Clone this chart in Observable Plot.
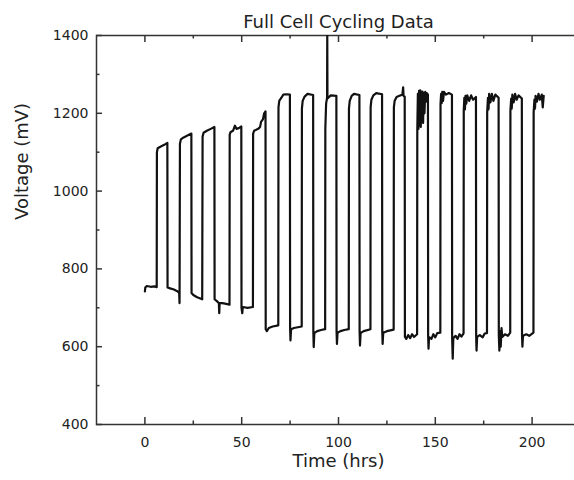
<!DOCTYPE html>
<html><head><meta charset="utf-8">
<script src="https://cdn.jsdelivr.net/npm/d3@7"></script>
<script src="https://cdn.jsdelivr.net/npm/@observablehq/plot@0.6"></script>
<style>
html,body{margin:0;padding:0;background:#fff;overflow:hidden;}
#chart{width:574px;height:480px;overflow:hidden;}
#chart svg{max-width:none !important;height:480px !important;}
</style>
</head><body><div id="chart"></div>
<script>
const chartTitle = "Full Cell Cycling Data";
const xLabel = "Time (hrs)";
const yLabel = "Voltage (mV)";
const xMajorTicks = [0, 50, 100, 150, 200];
const xMinorTicks = [25, 75, 125, 175];
const yMajorTicks = [400, 600, 800, 1000, 1200, 1400];
const yMinorTicks = [500, 700, 900, 1100, 1300];

// [time (hrs), voltage (mV)]
const cyclePoints = [
  [0, 742], [0.2, 752], [1, 756], [3, 754], [5, 755], [6.1, 753],
  [6.2, 1100], [6.6, 1110], [8, 1114], [10, 1119], [11.6, 1124],
  [11.7, 752], [13, 750], [15, 747], [17, 742], [17.7, 738], [17.9, 712],
  [18.1, 1122], [18.6, 1133], [20, 1138], [22, 1143], [24.0, 1148],
  [24.1, 738], [25, 733], [27, 727], [29.6, 722],
  [29.8, 1140], [30.3, 1150], [32, 1155], [34, 1160], [35.9, 1165],
  [36.0, 722], [37, 718], [38.2, 712], [38.4, 686], [38.6, 712], [40, 712], [42, 710], [43.7, 708],
  [43.8, 1145], [44.3, 1152], [45.5, 1155], [46.5, 1168], [47.3, 1160], [48.5, 1162], [49.8, 1166],
  [49.9, 700], [50.3, 686], [50.6, 702], [53, 700], [55.8, 702],
  [55.9, 1148], [56.4, 1155], [58.5, 1160], [59.5, 1165], [60, 1178], [61, 1185], [61.6, 1200], [62.3, 1205],
  [62.4, 645], [63, 640], [64, 648], [66, 652], [68.9, 655],
  [69.0, 1215], [69.4, 1232], [70.5, 1240], [71.5, 1248], [73, 1249], [74.9, 1248],
  [75.0, 648], [75.2, 616], [75.5, 645], [77, 648], [79, 650], [81.0, 652],
  [81.1, 1212], [81.5, 1232], [82.5, 1243], [84, 1250], [86.9, 1247],
  [87.0, 640], [87.2, 599], [87.5, 635], [89, 640], [91, 643], [93.1, 645],
  [93.2, 1160], [93.6, 1225], [94.1, 1240], [94.2, 1400], [94.3, 1238], [96, 1246], [98.9, 1245],
  [99.0, 640], [99.2, 607], [99.5, 636], [101, 640], [103, 643], [105.3, 645],
  [105.4, 1212], [105.8, 1232], [106.8, 1245], [108, 1250], [110.8, 1247],
  [110.9, 640], [111.1, 603], [111.4, 635], [113, 640], [116.5, 645],
  [116.6, 1216], [117, 1235], [118, 1246], [119.5, 1252], [122.5, 1249],
  [122.6, 640], [122.8, 607], [123.1, 636], [125, 640], [128.5, 644],
  [128.6, 1215], [129, 1232], [130, 1242], [131.5, 1245], [133, 1248], [133.4, 1267], [133.6, 1245], [134.2, 1243],
  [134.3, 625], [135, 620], [136, 630], [137, 622], [138, 632], [139, 625], [140.6, 632],
  [140.7, 1155], [141, 1250], [141.3, 1160], [141.6, 1258], [141.9, 1170], [142.2, 1259], [142.5, 1165],
  [142.8, 1255], [143.1, 1180], [143.4, 1256], [143.7, 1175], [144, 1252], [144.4, 1200], [144.8, 1255],
  [145.2, 1230], [145.6, 1252], [146.2, 1248],
  [146.3, 628], [146.5, 595], [146.8, 625], [148, 620], [149, 632], [150, 624], [151, 635], [152.6, 636],
  [152.7, 1224], [153, 1250], [153.3, 1226], [153.6, 1255], [154, 1232], [154.5, 1255], [155.5, 1248], [157, 1252], [158.6, 1248],
  [158.7, 622], [159, 569], [159.3, 622], [160.5, 628], [161.5, 620], [162.5, 632], [163.5, 626], [164.6, 634],
  [164.7, 1207], [165, 1240], [165.3, 1210], [165.6, 1245], [166, 1225], [166.5, 1246], [167.5, 1232], [168.5, 1246], [169.5, 1235], [171, 1242],
  [171.1, 628], [171.3, 590], [171.6, 625], [173, 630], [174.5, 624], [175.5, 634], [176.7, 635],
  [176.8, 1203], [177.2, 1240], [177.5, 1210], [177.8, 1250], [178.5, 1228], [179.2, 1250], [180, 1232], [181, 1248], [182.7, 1240],
  [182.8, 630], [183.1, 590], [183.4, 640], [183.8, 600], [184.2, 648], [184.6, 625], [186, 632], [187.5, 628], [188.7, 636],
  [188.8, 1207], [189.2, 1238], [189.5, 1212], [189.8, 1248], [190.5, 1228], [191.2, 1250], [192, 1235], [193, 1246], [194.7, 1238],
  [194.8, 628], [195, 600], [195.3, 628], [197, 632], [198.5, 628], [200.7, 636],
  [200.8, 1203], [201.2, 1235], [201.5, 1212], [201.8, 1245], [202.5, 1230], [203.3, 1250], [204, 1235], [205, 1248], [205.5, 1215], [206, 1245]
];

const trace = cyclePoints.map(([t, v]) => ({t, v}));
const axisColor = "#333";
const textColor = "#222";
const plain = (d) => String(d);

const W = 580, H = 480, mT = 35, mB = 56, mL = 96, mR = 0;
const frameW = W - mL - mR, frameH = H - mT - mB;
const majorLen = 7, minorLen = 3.5;
const tickStyle = {stroke: axisColor, strokeWidth: 1.5};

const chart = Plot.plot({
  width: W,
  height: H,
  marginTop: mT,
  marginBottom: mB,
  marginLeft: mL,
  marginRight: mR,
  style: {fontFamily: "'DejaVu Sans', sans-serif", background: "#fff", color: textColor, maxWidth: "none"},
  x: {domain: [-25, 225]},
  y: {domain: [400, 1400]},
  marks: [
    Plot.frame({stroke: axisColor, strokeWidth: 1.5}),
    // inward ticks: bottom, top, left, right
    Plot.tickX(xMajorTicks, {x: (d) => d, insetTop: frameH - majorLen, ...tickStyle}),
    Plot.tickX(xMinorTicks, {x: (d) => d, insetTop: frameH - minorLen, ...tickStyle}),
    Plot.tickX(xMajorTicks, {x: (d) => d, insetBottom: frameH - majorLen, ...tickStyle}),
    Plot.tickX(xMinorTicks, {x: (d) => d, insetBottom: frameH - minorLen, ...tickStyle}),
    Plot.tickY(yMajorTicks, {y: (d) => d, insetRight: frameW - majorLen + 1, ...tickStyle}),
    Plot.tickY(yMinorTicks, {y: (d) => d, insetRight: frameW - minorLen, ...tickStyle}),
    Plot.tickY(yMajorTicks, {y: (d) => d, insetLeft: frameW - majorLen + 1, ...tickStyle}),
    Plot.axisX(xMajorTicks, {anchor: "bottom", tickSize: 0, tickPadding: 13, fontSize: 14, fill: textColor, tickFormat: plain, label: null}),
    Plot.axisY(yMajorTicks, {anchor: "left", tickSize: 0, tickPadding: 8, fontSize: 14, fill: textColor, tickFormat: plain, label: null}),
    Plot.line(trace, {x: "t", y: "v", stroke: "#111", strokeWidth: 2.2, clip: true}),
    Plot.text([chartTitle], {frameAnchor: "top", dy: -8, lineAnchor: "bottom", fontSize: 18, fill: textColor}),
    Plot.text([xLabel], {frameAnchor: "bottom", dy: 42, lineAnchor: "bottom", fontSize: 18, fill: textColor}),
    Plot.text([yLabel], {frameAnchor: "left", dx: -69, dy: -10, rotate: -90, lineAnchor: "bottom", fontSize: 18, fill: textColor})
  ]
});
document.getElementById("chart").append(chart);
</script>
</body></html>
